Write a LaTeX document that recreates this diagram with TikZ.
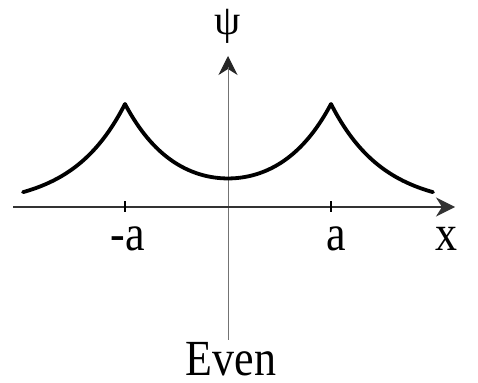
\documentclass[tikz,border=0pt]{standalone}
\usepackage{fontspec}
\setmainfont{Liberation Serif}
\usetikzlibrary{arrows.meta}
\begin{document}
\begin{tikzpicture}[x=1pt,y=1pt,
  axisline/.style={line width=1.3pt,draw=black!80},
  vaxis/.style={line width=1pt,draw=black!55},
  tip/.style={-{Stealth[length=19pt,width=19pt,inset=6pt]}},
  curve/.style={line width=3.8pt,line join=round,line cap=round},
  lbl/.style={inner sep=0pt,font=\fontsize{44}{44}\selectfont,anchor=base,text depth=0pt,yscale=1.15,transform shape},
  psilbl/.style={inner sep=0pt,font=\fontsize{42}{42}\selectfont,anchor=base,text depth=0pt}]
\useasboundingbox (0,0) rectangle (478,382);
\begin{scope}[shift={(228,175)}]
  \coordinate (xl) at (-215,0);
  \coordinate (xr) at (227,0);
  \coordinate (yb) at (0,-133);
  \coordinate (yt) at (0,151);
  \coordinate (tl1) at (-103,-5);
  \coordinate (tl2) at (-103,6);
  \coordinate (tr1) at (103,-5);
  \coordinate (tr2) at (103,6);
  \draw[vaxis,tip,black!85] (yb) -- (yt);
  \draw[vaxis] (yb) -- (0,140);
  \draw[axisline,tip] (xl) -- (xr);
  \draw[line width=1.8pt] (tl1) -- (tl2);
  \draw[line width=1.8pt] (tr1) -- (tr2);
  \draw[curve] plot[domain=-205:-103,samples=60] (\x,{103*exp(-0.019*(-\x-103))})
    -- plot[domain=-103:103,samples=120] (\x,{103*cosh(0.019*\x)/cosh(0.019*103)})
    -- plot[domain=103:205,samples=60] (\x,{103*exp(-0.019*(\x-103))});
  \node[psilbl] (psi) at (0,172) {ψ};
  \node[lbl] (ma) at (-100,-44) {-a};
  \node[lbl] (pa) at (108,-44) {a};
  \node[lbl] (xx) at (218,-44) {x};
  \node[lbl] (even) at (3,-169) {Even};
\end{scope}
\end{tikzpicture}
\end{document}
